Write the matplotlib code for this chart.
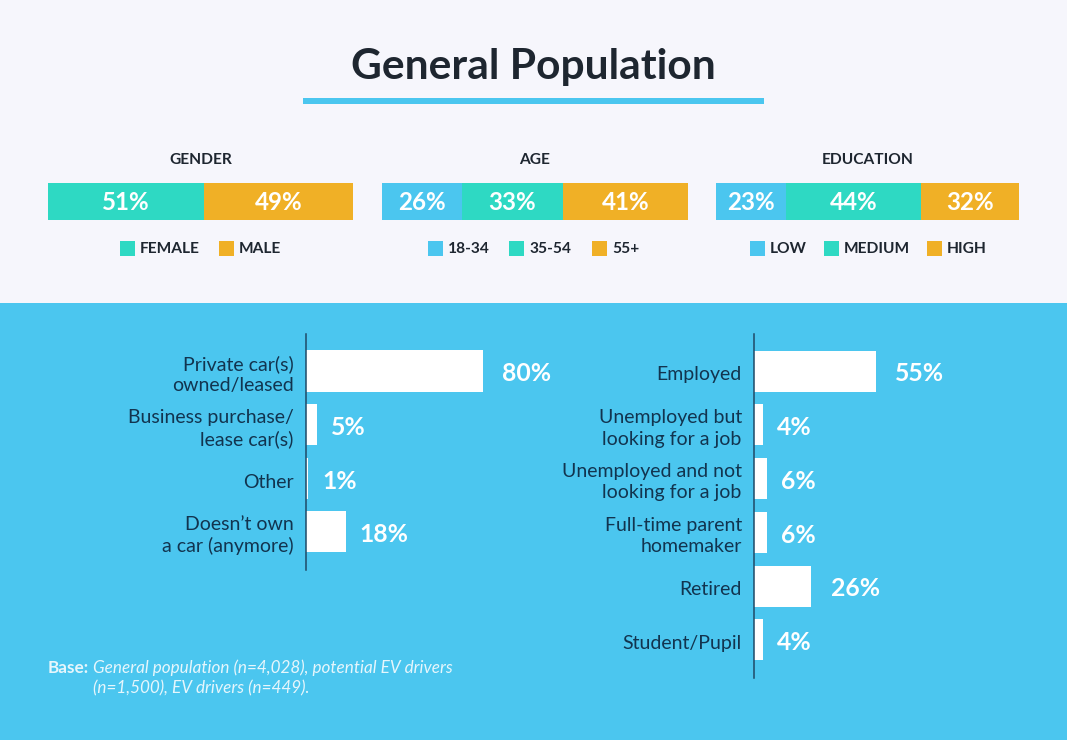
import matplotlib
matplotlib.use('Agg')
import matplotlib.pyplot as plt
from matplotlib.patches import Rectangle

W, H = 1067, 740
BG = '#F6F6FC'
BLUE = '#4BC6EF'
TEAL = '#2ED9C3'
AMBER = '#F0B026'
DARK = '#1E2630'
NAVY = '#12344F'

plt.rcParams['font.family'] = ['Lato', 'DejaVu Sans']

# top stacked bars
gender_labels = ['FEMALE', 'MALE']
gender_values = [51, 49]
age_labels = ['18-34', '35-54', '55+']
age_values = [26, 33, 41]
education_labels = ['LOW', 'MEDIUM', 'HIGH']
education_values = [23, 44, 32]

# lower bars
car_labels = ['Private car(s)\nowned/leased', 'Business purchase/\nlease car(s)',
              'Other', 'Doesn’t own\na car (anymore)']
car_values = [80, 5, 1, 18]
work_labels = ['Employed', 'Unemployed but\nlooking for a job',
               'Unemployed and not\nlooking for a job', 'Full-time parent\nhomemaker',
               'Retired', 'Student/Pupil']
work_values = [55, 4, 6, 6, 26, 4]


def px_axes(fig, left, top, right, bottom):
    # axes placed with pixel edges, y measured from the top of the image
    return fig.add_axes([left / W, 1 - bottom / H, (right - left) / W, (bottom - top) / H])


def stacked(fig, title, values, colors, left, right):
    ax = px_axes(fig, left, 183, right, 220)
    ax.set_xlim(0, sum(values))
    ax.set_ylim(0, 1)
    ax.axis('off')
    start = 0
    for v, c in zip(values, colors):
        ax.barh(0.5, v, left=start, height=1, color=c, linewidth=0)
        ax.text(start + v / 2, 0.47, f'{v}%', color='white', fontsize=17.4, fontweight='bold',
                ha='center', va='center')
        start += v
    bg.text((left + right) / 2, 159.5, title, color=DARK, fontsize=11.2, fontweight='bold',
            ha='center', va='center')


def legend(labels, colors, xs):
    for name, c, x in zip(labels, colors, xs):
        bg.add_patch(Rectangle((x, 240.5), 15, 15, color=c, linewidth=0))
        bg.text(x + 20, 249, name, color=DARK, fontsize=11.2, fontweight='bold',
                ha='left', va='center')


def bars(fig, labels, values, left, bottom):
    ax = px_axes(fig, left, 334, left + 221, bottom)
    ax.patch.set_alpha(0)
    rows = list(range(len(values)))
    ax.set_xlim(0, 100)
    ax.set_ylim(len(values) - 1 + 0.71, -0.69)
    ax.barh(rows, values, height=0.765, color='white', linewidth=0)
    for r, v, name in zip(rows, values, labels):
        ax.annotate(f'{v}%', (v, r), xytext=(10 if v < 25 else 14, -2), textcoords='offset points',
                    color='white', fontsize=17.8, fontweight='bold', va='center', ha='left')
        ax.annotate(name, (0, r), xytext=(-8.8, -2.7), textcoords='offset points',
                    color=NAVY, fontsize=14, ha='right', va='center', linespacing=1.3,
                    annotation_clip=False)
    ax.set_yticks([])
    ax.set_xticks([])
    for side in ['top', 'right', 'bottom']:
        ax.spines[side].set_visible(False)
    ax.spines['left'].set_color('#1F4A66')
    ax.spines['left'].set_linewidth(1.1)


fig = plt.figure(figsize=(W / 100, H / 100), dpi=100, facecolor=BG)

# pixel sized layer for background bands, title and legends
bg = fig.add_axes([0, 0, 1, 1])
bg.set_xlim(0, W)
bg.set_ylim(H, 0)
bg.axis('off')
bg.add_patch(Rectangle((0, 303), W, H - 303, color=BLUE, linewidth=0))
bg.add_patch(Rectangle((303, 98), 461, 6, color=BLUE, linewidth=0))
bg.text(533.5, 67, 'General Population', color=DARK, fontsize=30.6, fontweight='bold',
        ha='center', va='center')

stacked(fig, 'GENDER', gender_values, [TEAL, AMBER], 48, 353)
stacked(fig, 'AGE', age_values, [BLUE, TEAL, AMBER], 382, 688)
stacked(fig, 'EDUCATION', education_values, [BLUE, TEAL, AMBER], 716, 1019)

legend(gender_labels, [TEAL, AMBER], [120, 219])
legend(age_labels, [BLUE, TEAL, AMBER], [428, 509, 592])
legend(education_labels, [BLUE, TEAL, AMBER], [750, 824, 927])

bars(fig, car_labels, car_values, 306, 570)
bars(fig, work_labels, work_values, 754, 678)

# footnote
NOTE = '#E6F6FC'
bg.text(48, 668, 'Base:', color=NOTE, fontsize=12.3, fontweight='bold', va='center')
bg.text(93, 668, 'General population (n=4,028), potential EV drivers', color=NOTE,
        fontsize=12.3, style='italic', va='center')
bg.text(93, 688, '(n=1,500), EV drivers (n=449).', color=NOTE, fontsize=12.3,
        style='italic', va='center')

fig.savefig('out.png', dpi=100, facecolor=BG)
